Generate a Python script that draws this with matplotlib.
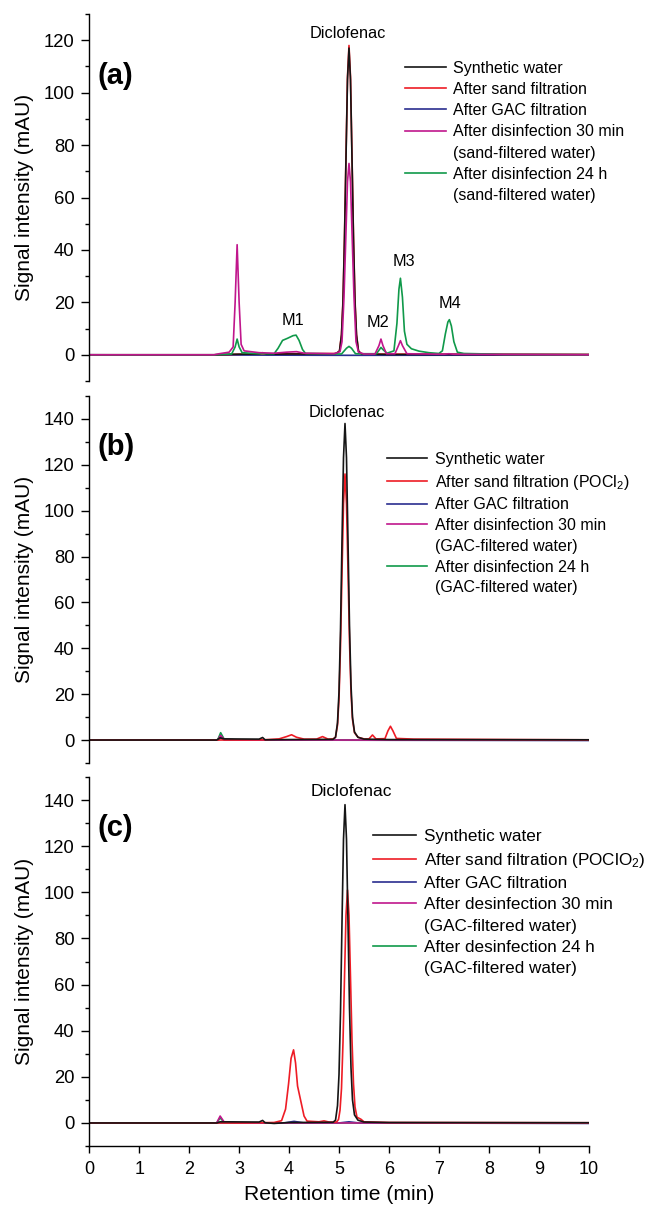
import numpy as np
import matplotlib
matplotlib.use("Agg")
import matplotlib.pyplot as plt
from matplotlib.lines import Line2D
from matplotlib.ticker import MultipleLocator

plt.rcParams['font.family'] = ['Liberation Sans', 'DejaVu Sans']
plt.rcParams['mathtext.default'] = 'regular'

# colours of the five traces
C_BLACK = '#151515'
C_RED = '#ee1c25'
C_BLUE = '#2a2d8f'
C_MAGENTA = '#c0168c'
C_GREEN = '#10994a'

# ---- panel (a): (time min, signal mAU) ----
A_BLACK = [(0, 0), (2.5, 0), (2.9, 0.2), (3.4, 0.3), (3.47, 0.8), (3.55, 0.2), (4.0, 0.3),
           (4.9, 0.3), (4.95, 0.6), (5.01, 1.4), (5.05, 7.5), (5.08, 20), (5.11, 44), (5.14, 75),
           (5.17, 105), (5.20, 117), (5.23, 105), (5.26, 75), (5.29, 44), (5.32, 20), (5.35, 7.5),
           (5.39, 1.4), (5.45, 0.3), (6.0, 0.1), (10, 0.1)]
A_RED = [(0, 0), (2.5, 0), (3.0, 0.2), (4.0, 0.4), (4.95, 0.5), (5.01, 1.5), (5.05, 7.8),
         (5.08, 21), (5.11, 45), (5.14, 76), (5.17, 106), (5.20, 118), (5.23, 106), (5.26, 76),
         (5.29, 45), (5.32, 21), (5.35, 7.8), (5.39, 1.5), (5.45, 0.3), (10, 0.1)]
A_BLUE = [(0, 0), (3.0, -0.1), (5.2, -0.2), (10, -0.1)]
A_MAGENTA = [(0, 0), (2.5, 0), (2.6, 0.4), (2.8, 1.0), (2.88, 3), (2.92, 20), (2.96, 42),
             (3.0, 20), (3.04, 4), (3.1, 1.5), (3.4, 0.8), (3.7, 0.6), (3.95, 1.0), (4.15, 1.2),
             (4.3, 0.6), (4.9, 0.4), (5.02, 1.2), (5.06, 5), (5.10, 22), (5.14, 47), (5.17, 66),
             (5.20, 73), (5.23, 66), (5.26, 47), (5.30, 22), (5.34, 5), (5.39, 1.0), (5.5, 0.3),
             (5.72, 0.3), (5.8, 3.5), (5.84, 6.0), (5.88, 3.5), (5.95, 0.4), (6.12, 0.4),
             (6.19, 3.5), (6.23, 5.4), (6.27, 3.5), (6.36, 0.4), (7.1, 0.2), (7.2, 0.4),
             (7.3, 0.2), (10, 0)]
A_GREEN = [(0, 0), (2.5, 0), (2.85, 0.3), (2.92, 3), (2.96, 6), (3.0, 3), (3.06, 0.8),
           (3.4, 0.4), (3.7, 0.4), (3.78, 2.5), (3.87, 5.5), (3.97, 6.3), (4.08, 7.3), (4.14, 7.5),
           (4.2, 5.5), (4.27, 2.0), (4.33, 0.5), (5.05, 0.3), (5.15, 2.5), (5.2, 3.2), (5.25, 2.5),
           (5.33, 0.4), (5.75, 0.4), (5.81, 2.0), (5.84, 2.8), (5.88, 2.0), (5.96, 0.6),
           (6.1, 1.5), (6.16, 12), (6.2, 25), (6.23, 29.2), (6.27, 22), (6.31, 9), (6.36, 4),
           (6.45, 2.3), (6.6, 1.4), (6.8, 0.8), (7.0, 0.5), (7.07, 1.5), (7.13, 8), (7.18, 12.5),
           (7.21, 13.4), (7.25, 11), (7.3, 5), (7.37, 1.0), (7.5, 0.5), (8.0, 0.3), (8.3, 0.1),
           (10, 0)]

# ---- panel (b) ----
B_BLACK = [(0, 0), (2.55, 0), (2.62, 1.0), (2.7, 0.5), (3.4, 0.4), (3.47, 1.1), (3.52, 0.1),
           (4.0, 0.2), (4.88, 0.3), (4.93, 1.2), (4.97, 7.5), (5.00, 21), (5.03, 48), (5.06, 87),
           (5.09, 123), (5.12, 138), (5.15, 123), (5.18, 87), (5.21, 50), (5.24, 24), (5.27, 10),
           (5.31, 3.5), (5.38, 1.2), (5.5, 0.4), (6.0, 0.2), (10, 0.1)]
B_RED = [(0, 0), (2.55, 0), (3.5, 0.1), (3.8, 0.5), (3.95, 1.5), (4.05, 2.3), (4.15, 1.2),
         (4.3, 0.4), (4.55, 0.4), (4.67, 1.5), (4.78, 0.4), (4.88, 0.5), (4.93, 1.2), (4.97, 6.5),
         (5.00, 18), (5.03, 41), (5.06, 73), (5.09, 103), (5.12, 116), (5.15, 103), (5.18, 74),
         (5.21, 43), (5.24, 21), (5.27, 9), (5.31, 3.2), (5.38, 1.2), (5.5, 0.5), (5.6, 0.5),
         (5.67, 2.2), (5.74, 0.5), (5.92, 0.6), (5.98, 4), (6.03, 6.0), (6.08, 4), (6.15, 0.7),
         (6.5, 0.4), (7.5, 0.3), (8.5, 0.2), (10, 0.1)]
B_BLUE = [(0, 0), (2.58, 0), (2.63, 1.0), (2.7, 0), (10, -0.2)]
B_MAGENTA = [(0, 0), (2.57, 0), (2.63, 2.0), (2.7, 0.3), (3.0, 0), (10, 0)]
B_GREEN = [(0, 0), (2.57, 0), (2.63, 3.2), (2.7, 0.4), (3.0, 0), (10, 0)]

# ---- panel (c) ----
C_BLACK_TR = [(0, 0), (2.55, 0), (2.62, 0.5), (2.7, 0.5), (3.4, 0.4), (3.47, 1.1), (3.52, 0.1),
              (3.7, -0.2), (4.0, 0.2), (4.88, 0.3), (4.93, 1.2), (4.97, 7.5), (5.00, 21),
              (5.03, 48), (5.06, 87), (5.09, 123), (5.12, 138), (5.15, 123), (5.18, 87),
              (5.21, 50), (5.24, 24), (5.27, 10), (5.31, 3.5), (5.38, 1.2), (5.5, 0.4),
              (6.0, 0.2), (10, 0.1)]
C_RED_TR = [(0, 0), (2.55, 0), (3.0, 0), (3.7, 0.2), (3.85, 1.0), (3.93, 6), (3.99, 17),
            (4.04, 28), (4.09, 31.7), (4.13, 26), (4.17, 16), (4.21, 12), (4.25, 8), (4.3, 3),
            (4.36, 0.8), (4.6, 0.5), (4.7, 0.9), (4.8, 0.4), (4.95, 0.4), (4.99, 1.5),
            (5.02, 5.5), (5.05, 15), (5.08, 35), (5.11, 63), (5.14, 90), (5.17, 101), (5.20, 90),
            (5.23, 63), (5.26, 36), (5.29, 17), (5.32, 7), (5.36, 2.5), (5.44, 1.6), (5.5, 0.5),
            (6.0, 0.2), (10, 0.1)]
C_BLUE_TR = [(0, 0), (2.6, 0), (3.9, 0), (4.1, 0.7), (4.3, 0), (5.0, 0), (5.2, 0.5), (5.4, 0),
             (10, -0.2)]
C_MAGENTA_TR = [(0, 0), (2.55, 0), (2.62, 3.0), (2.7, 0.4), (3.0, 0), (10, 0)]
C_GREEN_TR = [(0, 0), (2.55, 0), (2.62, 2.2), (2.7, 0.3), (3.0, 0), (10, 0)]

LABELS_A = ['Synthetic water', 'After sand filtration', 'After GAC filtration',
            'After disinfection 30 min', '(sand-filtered water)',
            'After disinfection 24 h', '(sand-filtered water)']
LABELS_B = ['Synthetic water', 'After sand filtration (POCl$_2$)', 'After GAC filtration',
            'After disinfection 30 min', '(GAC-filtered water)',
            'After disinfection 24 h', '(GAC-filtered water)']
LABELS_C = ['Synthetic water', 'After sand filtration (POClO$_2$)', 'After GAC filtration',
            'After desinfection 30 min', '(GAC-filtered water)',
            'After desinfection 24 h', '(GAC-filtered water)']

M_LABELS = ['M1', 'M2', 'M3', 'M4']
M_POS = [(4.08, 13.0), (5.78, 12.5), (6.30, 35.5), (7.23, 19.4)]


def draw(ax, traces, order):
    """traces: dict colour -> list of points; plotted in the given order."""
    handles = {}
    for col in order:
        pts = np.array(traces[col])
        h, = ax.plot(pts[:, 0], pts[:, 1], color=col, lw=1.2)
        handles[col] = h
    return handles


def style(ax, ymax, bottom_axis):
    ax.set_xlim(0, 10)
    ax.set_ylim(-10, ymax)
    for s in ['top', 'right']:
        ax.spines[s].set_visible(False)
    ax.spines['left'].set_linewidth(1.0)
    ax.yaxis.set_major_locator(MultipleLocator(20))
    ax.yaxis.set_minor_locator(MultipleLocator(10))
    ax.tick_params(axis='y', which='major', length=5.5, width=1.0, labelsize=13.3, pad=5)
    ax.tick_params(axis='y', which='minor', length=3, width=1.0)
    ax.set_ylabel('Signal intensity (mAU)', fontsize=15)
    ax.yaxis.set_label_coords(-0.111, 0.5)
    if bottom_axis:
        ax.spines['bottom'].set_linewidth(1.0)
        ax.xaxis.set_major_locator(MultipleLocator(1))
        ax.tick_params(axis='x', length=5, width=1.0, labelsize=13, pad=6)
        ax.set_xlabel('Retention time (min)', fontsize=15.2, labelpad=5)
    else:
        ax.spines['bottom'].set_visible(False)
        ax.tick_params(axis='x', bottom=False, labelbottom=False)


def legend(ax, handles, labels, anchor, fs, spacing):
    blank = Line2D([], [], color='none')
    hs = [handles[C_BLACK], handles[C_RED], handles[C_BLUE], handles[C_MAGENTA], blank,
          handles[C_GREEN], blank]
    leg = ax.legend(hs, labels, loc='upper left', bbox_to_anchor=anchor, frameon=False,
                    fontsize=fs, handlelength=2.55, handletextpad=0.45, labelspacing=spacing,
                    borderpad=0, borderaxespad=0)
    for line in leg.get_lines():
        line.set_linewidth(1.2)


fig = plt.figure(figsize=(6.49, 12.08), dpi=100)
ax_a = fig.add_axes([0.1376, 0.6846, 0.7695, 0.3038])
ax_b = fig.add_axes([0.1376, 0.3684, 0.7695, 0.3038])
ax_c = fig.add_axes([0.1376, 0.0513, 0.7695, 0.3055])

# (a)
h_a = draw(ax_a, {C_BLACK: A_BLACK, C_RED: A_RED, C_BLUE: A_BLUE, C_MAGENTA: A_MAGENTA,
                  C_GREEN: A_GREEN},
           [C_BLUE, C_RED, C_BLACK, C_GREEN, C_MAGENTA])
style(ax_a, 130, False)
legend(ax_a, h_a, LABELS_A, (0.632, 0.873), 11.5, 0.39)
ax_a.text(5.18, 122.7, 'Diclofenac', ha='center', va='center', fontsize=11.7)
for lab, (x, y) in zip(M_LABELS, M_POS):
    ax_a.text(x, y, lab, ha='center', va='center', fontsize=11.7)
ax_a.text(0.53, 106.4, '(a)', ha='center', va='center', fontsize=21, fontweight='bold')

# (b)
h_b = draw(ax_b, {C_BLACK: B_BLACK, C_RED: B_RED, C_BLUE: B_BLUE, C_MAGENTA: B_MAGENTA,
                  C_GREEN: B_GREEN},
           [C_BLUE, C_GREEN, C_MAGENTA, C_RED, C_BLACK])
style(ax_b, 150, False)
legend(ax_b, h_b, LABELS_B, (0.5955, 0.848), 11.5, 0.36)
ax_b.text(5.16, 143, 'Diclofenac', ha='center', va='center', fontsize=11.7)
ax_b.text(0.53, 127.6, '(b)', ha='center', va='center', fontsize=21, fontweight='bold')

# (c)
h_c = draw(ax_c, {C_BLACK: C_BLACK_TR, C_RED: C_RED_TR, C_BLUE: C_BLUE_TR,
                  C_MAGENTA: C_MAGENTA_TR, C_GREEN: C_GREEN_TR},
           [C_BLUE, C_GREEN, C_MAGENTA, C_RED, C_BLACK])
style(ax_c, 150, True)
legend(ax_c, h_c, LABELS_C, (0.5675, 0.858), 12.3, 0.37)
ax_c.text(5.25, 143.9, 'Diclofenac', ha='center', va='center', fontsize=12.5)
ax_c.text(0.52, 127.7, '(c)', ha='center', va='center', fontsize=21, fontweight='bold')

fig.savefig('out.png', dpi=100)
